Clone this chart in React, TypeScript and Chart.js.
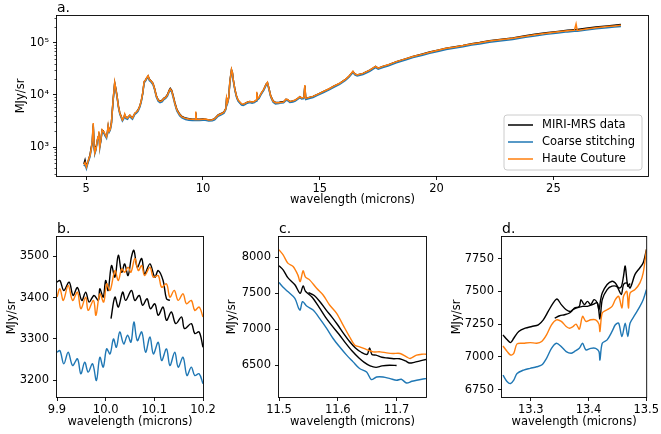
import React, { useEffect, useRef } from "react";
import { Chart, registerables } from "chart.js";

Chart.register(...registerables);

const W = 661;
const H = 434;
const FONT_FAMILY = '"DejaVu Sans", Verdana, sans-serif';
const LABEL_SIZE = 11.5;
const TITLE_SIZE = 14;
const BLACK = "#000000";
const BLUE = "#1f77b4";
const ORANGE = "#ff7f0e";

const LEGEND_LABELS = ["MIRI-MRS data", "Coarse stitching", "Haute Couture"];
const X_LABEL = "wavelength (microns)";
const Y_LABEL = "MJy/sr";

// ---------------- panel a: full spectrum ----------------
const fullWavelength = [
  4.90, 4.95, 5.01, 5.08, 5.16, 5.22, 5.26, 5.30, 5.34, 5.37,
  5.42, 5.47, 5.51, 5.54, 5.58, 5.63, 5.68, 5.73, 5.77, 5.82,
  5.87, 5.91, 5.94, 5.98, 6.03, 6.08, 6.15, 6.22, 6.27, 6.32,
  6.38, 6.44, 6.50, 6.55, 6.60, 6.65, 6.70, 6.77, 6.82, 6.87,
  6.92, 6.98, 7.03, 7.08, 7.15, 7.22, 7.30, 7.36, 7.42, 7.48,
  7.53, 7.58, 7.65, 7.70, 7.78, 7.86, 7.93, 8.00, 8.08, 8.16,
  8.25, 8.32, 8.40, 8.48, 8.55, 8.60, 8.66, 8.72, 8.80, 8.88,
  9.00, 9.10, 9.25, 9.40, 9.55, 9.66, 9.69, 9.72, 9.85, 10.00,
  10.10, 10.25, 10.40, 10.50, 10.65, 10.80, 10.90, 10.98, 11.01, 11.05,
  11.10, 11.15, 11.22, 11.26, 11.30, 11.37, 11.44, 11.50, 11.58, 11.65,
  11.72, 11.80, 11.90, 12.00, 12.10, 12.20, 12.28, 12.30, 12.33, 12.40,
  12.50, 12.60, 12.70, 12.76, 12.82, 12.90, 13.00, 13.10, 13.25, 13.35,
  13.45, 13.50, 13.55, 13.62, 13.72, 13.85, 13.95, 14.05, 14.15, 14.22,
  14.32, 14.36, 14.40, 14.55, 14.71, 14.90, 15.14, 15.40, 15.60, 15.85,
  16.10, 16.25, 16.42, 16.50, 16.60, 16.85, 17.03, 17.14, 17.30, 17.39,
  17.50, 17.70, 17.92, 18.28, 18.70, 18.99, 19.40, 19.70, 20.10, 20.41,
  20.80, 21.13, 21.50, 21.84, 22.26, 22.80, 23.26, 23.80, 24.20, 24.69,
  25.20, 25.60, 25.90, 25.97, 26.02, 26.40, 26.82, 27.30, 27.60, 27.89,
];

const fullMiri = [
  470, 560, 420, 520, 700, 1000, 1200, 2600, 1050, 800,
  950, 1300, 1550, 1900, 1050, 1350, 2100, 2050, 1850, 1650,
  1600, 1950, 2500, 2050, 2250, 2950, 7800, 17000, 13200, 9600,
  6100, 4500, 3850, 3350, 3550, 4100, 3750, 3650, 3850, 4050,
  3850, 3650, 3950, 4400, 4700, 5150, 6200, 7800, 10800, 17800,
  19000, 20800, 23000, 20200, 18600, 16700, 13200, 9800, 8100, 7600,
  7900, 8600, 9100, 10200, 12300, 13400, 12300, 9800, 7000, 5300,
  4300, 3850, 3600, 3480, 3420, 3400, 4600, 3400, 3400, 3440,
  3420, 3320, 3360, 3520, 4150, 4450, 4750, 5550, 8400, 7300,
  9100, 18200, 30500, 27000, 19200, 12600, 9300, 7880, 7150, 6650,
  6550, 6850, 7250, 7450, 7300, 7450, 7950, 11000, 8450, 8950,
  10900, 12700, 16100, 17200, 13600, 9600, 7700, 7200, 7170, 7400,
  7450, 7750, 8250, 8150, 7450, 7650, 7950, 8550, 9250, 8750,
  8950, 15000, 8550, 8950, 9350, 10250, 11550, 13100, 14700, 16700,
  19900, 22900, 28000, 25300, 24200, 25900, 28300, 29900, 33300, 35300,
  32600, 35400, 37900, 43700, 50000, 55100, 61200, 66800, 73500, 79500,
  84600, 89800, 97000, 102000, 110500, 117500, 125000, 137000, 146500, 157000,
  167000, 176000, 180000, 181000, 181500, 191000, 202000, 212000, 219000, 226000,
];

const fullCoarse = [
  430, 460, 380, 500, 640, 900, 1280, 2750, 940, 740,
  870, 1280, 1520, 1900, 950, 1330, 2050, 1900, 1800, 1600,
  1470, 1900, 2450, 1900, 2100, 2750, 7500, 16400, 12400, 9000,
  5700, 4250, 3600, 3150, 3420, 4100, 3520, 3420, 3700, 3900,
  3600, 3420, 3800, 4250, 4450, 4850, 5900, 7500, 10500, 17300,
  18100, 20000, 22400, 19000, 17600, 15700, 12400, 9100, 7600, 7100,
  7400, 8100, 8550, 9500, 11400, 12400, 11400, 9000, 6450, 4950,
  4000, 3620, 3380, 3280, 3240, 3220, 4550, 3220, 3220, 3260,
  3280, 3150, 3190, 3330, 3900, 4180, 4470, 5230, 8300, 6850,
  8550, 17100, 29500, 25700, 18000, 11900, 8850, 7650, 6950, 6400,
  6300, 6550, 6950, 7130, 6950, 7130, 7600, 10900, 8080, 8550,
  10450, 12200, 15200, 16200, 12800, 9000, 7220, 6750, 6850, 7050,
  7100, 7450, 7900, 7800, 7150, 7320, 7600, 8200, 8850, 8400,
  8550, 14700, 8200, 8550, 8950, 9800, 11050, 12550, 14100, 16000,
  19000, 21900, 27100, 24300, 23100, 24700, 27100, 28500, 31800, 33700,
  31200, 33700, 36100, 41600, 47500, 52300, 58000, 63200, 69400, 75000,
  79800, 84600, 91200, 96000, 103600, 110200, 117000, 128300, 136800, 146300,
  155800, 163400, 167200, 168000, 168500, 176700, 187200, 196700, 202400, 208000,
];

const fullHaute = [
  460, 500, 410, 540, 680, 950, 1350, 2900, 1000, 780,
  920, 1350, 1600, 2000, 1000, 1400, 2150, 2000, 1900, 1700,
  1550, 2000, 2600, 2000, 2200, 2900, 7900, 17600, 13000, 9500,
  6000, 4450, 3800, 3300, 3600, 4300, 3700, 3600, 3900, 4100,
  3800, 3600, 4000, 4450, 4700, 5100, 6200, 7900, 11000, 18200,
  19000, 21000, 23500, 20000, 18500, 16500, 13000, 9600, 8000, 7500,
  7800, 8500, 9000, 10000, 12000, 13000, 12000, 9500, 6800, 5200,
  4200, 3800, 3550, 3450, 3400, 3380, 4800, 3380, 3380, 3420,
  3440, 3300, 3350, 3500, 4100, 4400, 4700, 5500, 8700, 7200,
  9000, 18000, 31000, 27000, 19000, 12500, 9300, 8100, 7300, 6750,
  6650, 6900, 7300, 7500, 7300, 7500, 8000, 11500, 8500, 9000,
  11000, 12800, 16000, 17500, 13500, 9500, 7600, 7100, 7080, 7280,
  7350, 7800, 8300, 8200, 7500, 7700, 8000, 8600, 9300, 8800,
  9000, 15500, 8600, 9000, 9400, 10300, 11600, 13200, 14800, 16800,
  20000, 23000, 28500, 25500, 24300, 26000, 28500, 30000, 33500, 35500,
  32800, 35500, 38000, 43800, 50000, 55000, 61000, 66500, 73000, 79000,
  84000, 89000, 96000, 101000, 109000, 116000, 123000, 135000, 144000, 154000,
  164000, 172000, 176000, 232000, 174000, 186000, 197000, 207000, 213000, 219000,
];

const aXTicks = [5, 10, 15, 20, 25];
const aXTickLabels = ["5", "10", "15", "20", "25"];
const aYTicks = [1000, 10000, 100000];
const aYTickLabels = ["10\u00B3", "10\u2074", "10\u2075"];

// ---------------- panel b: 9.9 - 10.2 ----------------
const bMiriAWl = [
  9.900, 9.906, 9.914, 9.925, 9.933, 9.942, 9.951, 9.959, 9.966, 9.976,
  9.985, 9.988, 9.995, 10.000, 10.005, 10.012, 10.019, 10.026, 10.033, 10.039,
  10.046, 10.053, 10.058, 10.065, 10.074, 10.080, 10.091, 10.101, 10.108, 10.118,
  10.125, 10.132,
];
const bMiriA = [
  3437, 3441, 3417, 3437, 3405, 3424, 3393, 3413, 3389, 3405,
  3393, 3421, 3401, 3441, 3417, 3477, 3449, 3502, 3461, 3481,
  3453, 3498, 3514, 3473, 3494, 3457, 3481, 3449, 3465, 3441,
  3397, 3393,
];
const bMiriBWl = [
  10.011, 10.019, 10.026, 10.035, 10.041, 10.053, 10.060, 10.069, 10.076, 10.085,
  10.092, 10.101, 10.108, 10.118, 10.125, 10.135, 10.144, 10.156, 10.162, 10.176,
  10.183, 10.192, 10.200,
];
const bMiriB = [
  3349, 3401, 3377, 3413, 3393, 3417, 3393, 3405, 3381, 3397,
  3373, 3385, 3357, 3377, 3345, 3365, 3337, 3353, 3325, 3337,
  3313, 3317, 3280,
];
const bHauteWl = [
  9.900, 9.906, 9.913, 9.923, 9.932, 9.942, 9.949, 9.959, 9.964, 9.975,
  9.980, 9.988, 9.996, 10.002, 10.009, 10.019, 10.026, 10.033, 10.039, 10.046,
  10.052, 10.060, 10.067, 10.074, 10.080, 10.091, 10.098, 10.108, 10.115, 10.125,
  10.132, 10.141, 10.149, 10.159, 10.166, 10.176, 10.183, 10.192, 10.200,
];
const bHaute = [
  3401, 3421, 3393, 3429, 3393, 3413, 3373, 3401, 3369, 3393,
  3357, 3409, 3389, 3433, 3417, 3465, 3441, 3469, 3461, 3473,
  3461, 3494, 3465, 3477, 3453, 3473, 3449, 3453, 3425, 3433,
  3401, 3417, 3393, 3409, 3385, 3393, 3369, 3377, 3353,
];
const bCoarseWl = [
  9.900, 9.906, 9.914, 9.923, 9.932, 9.942, 9.949, 9.957, 9.964, 9.973,
  9.981, 9.988, 9.995, 10.002, 10.009, 10.016, 10.022, 10.029, 10.037, 10.045,
  10.052, 10.058, 10.065, 10.074, 10.082, 10.091, 10.098, 10.108, 10.115, 10.125,
  10.132, 10.142, 10.149, 10.159, 10.167, 10.176, 10.183, 10.192, 10.200,
];
const bCoarse = [
  3268, 3272, 3240, 3268, 3236, 3252, 3216, 3244, 3220, 3240,
  3200, 3256, 3232, 3276, 3264, 3300, 3280, 3317, 3288, 3309,
  3292, 3341, 3296, 3317, 3268, 3305, 3264, 3292, 3248, 3276,
  3236, 3268, 3232, 3256, 3212, 3232, 3212, 3216, 3192,
];
const bXTicks = [9.9, 10.0, 10.1, 10.2];
const bXTickLabels = ["9.9", "10.0", "10.1", "10.2"];
const bYTicks = [3200, 3300, 3400, 3500];
const bYTickLabels = ["3200", "3300", "3400", "3500"];

// ---------------- panel c: 11.5 - 11.75 ----------------
const cMiriAWl = [
  11.500, 11.507, 11.515, 11.527, 11.536, 11.541, 11.545, 11.556, 11.568, 11.579,
  11.590, 11.602, 11.613, 11.624, 11.636, 11.645, 11.655, 11.665, 11.675, 11.688,
  11.700,
];
const cMiriA = [
  7883, 7828, 7720, 7620, 7500, 7604, 7530, 7450, 7310, 7170,
  7050, 6930, 6810, 6700, 6600, 6540, 6490, 6470, 6490, 6500,
  6495,
];
const cMiriBWl = [
  11.550, 11.560, 11.570, 11.580, 11.590, 11.600, 11.610, 11.620, 11.630, 11.640,
  11.650, 11.654, 11.658, 11.665, 11.675, 11.685, 11.695, 11.705, 11.715, 11.722,
  11.730, 11.740, 11.750,
];
const cMiriB = [
  7510, 7470, 7380, 7270, 7170, 7060, 6940, 6830, 6740, 6680,
  6650, 6740, 6650, 6640, 6610, 6600, 6590, 6590, 6560, 6530,
  6540, 6560, 6580,
];
const cHauteWl = [
  11.500, 11.507, 11.515, 11.524, 11.532, 11.536, 11.541, 11.545, 11.552, 11.564,
  11.575, 11.586, 11.598, 11.609, 11.620, 11.629, 11.637, 11.649, 11.660, 11.672,
  11.683, 11.694, 11.706, 11.717, 11.723, 11.734, 11.743, 11.750,
];
const cHaute = [
  8107, 8037, 7921, 7874, 7758, 7664, 7814, 7725, 7688, 7571,
  7478, 7338, 7222, 7059, 6896, 6779, 6756, 6718, 6686, 6686,
  6672, 6663, 6663, 6616, 6593, 6640, 6653, 6653,
];
const cCoarseWl = [
  11.500, 11.507, 11.515, 11.527, 11.533, 11.536, 11.540, 11.547, 11.558, 11.569,
  11.581, 11.592, 11.603, 11.615, 11.626, 11.637, 11.649, 11.657, 11.666, 11.677,
  11.689, 11.700, 11.708, 11.717, 11.726, 11.734, 11.743, 11.750,
];
const cCoarse = [
  7651, 7585, 7525, 7431, 7300, 7268, 7385, 7324, 7268, 7152,
  7012, 6872, 6756, 6640, 6546, 6453, 6406, 6299, 6336, 6336,
  6313, 6290, 6304, 6252, 6276, 6290, 6304, 6313,
];
const cXTicks = [11.5, 11.6, 11.7];
const cXTickLabels = ["11.5", "11.6", "11.7"];
const cYTicks = [6500, 7000, 7500, 8000];
const cYTickLabels = ["6500", "7000", "7500", "8000"];

// ---------------- panel d: 13.25 - 13.5 ----------------
const dMiriAWl = [
  13.2517, 13.2591, 13.2648, 13.2704, 13.2790, 13.2903, 13.3017, 13.3130, 13.3216, 13.3301,
  13.3386, 13.3454, 13.3528, 13.3613, 13.3698, 13.3755, 13.3840, 13.3869, 13.3926, 13.3982,
  13.4039, 13.4096, 13.4153, 13.4181, 13.4210, 13.4238, 13.4323, 13.4408, 13.4465, 13.4522,
  13.4568, 13.4607, 13.4636, 13.4681, 13.4721,
];
const dMiriA = [
  7168, 7130, 7109, 7142, 7194, 7219, 7232, 7245, 7283, 7347,
  7411, 7442, 7399, 7360, 7347, 7373, 7386, 7437, 7399, 7424,
  7399, 7437, 7412, 7360, 7437, 7488, 7553, 7578, 7565, 7527,
  7535, 7617, 7694, 7540, 7560,
];
const dMiriBWl = [
  13.3414, 13.3500, 13.3585, 13.3670, 13.3727, 13.3784, 13.3897, 13.3982, 13.4068, 13.4153,
  13.4198, 13.4238, 13.4323, 13.4408, 13.4494, 13.4568, 13.4607, 13.4664, 13.4721, 13.4806,
  13.4891, 13.4948, 13.5005,
];
const dMiriB = [
  7296, 7314, 7322, 7335, 7360, 7373, 7386, 7386, 7399, 7412,
  7290, 7437, 7514, 7540, 7535, 7476, 7553, 7565, 7527, 7630,
  7681, 7719, 7822,
];
const dHauteWl = [
  13.2517, 13.2591, 13.2648, 13.2704, 13.2761, 13.2875, 13.2988, 13.3102, 13.3187, 13.3272,
  13.3358, 13.3443, 13.3528, 13.3613, 13.3670, 13.3727, 13.3784, 13.3840, 13.3897, 13.3954,
  13.4039, 13.4124, 13.4181, 13.4198, 13.4238, 13.4323, 13.4408, 13.4465, 13.4522, 13.4579,
  13.4607, 13.4664, 13.4692, 13.4721, 13.4806, 13.4891, 13.4948, 13.5005,
];
const dHaute = [
  7083, 7040, 7014, 7027, 7099, 7104, 7109, 7104, 7117, 7168,
  7245, 7283, 7271, 7232, 7219, 7230, 7250, 7212, 7309, 7271,
  7283, 7283, 7250, 7194, 7335, 7360, 7386, 7437, 7463, 7373,
  7463, 7501, 7373, 7488, 7514, 7565, 7642, 7822,
];
const dCoarseWl = [
  13.2517, 13.2591, 13.2648, 13.2704, 13.2761, 13.2875, 13.2988, 13.3102, 13.3187, 13.3272,
  13.3358, 13.3443, 13.3528, 13.3613, 13.3698, 13.3755, 13.3840, 13.3897, 13.3954, 13.4039,
  13.4124, 13.4181, 13.4198, 13.4238, 13.4323, 13.4408, 13.4465, 13.4522, 13.4579, 13.4636,
  13.4681, 13.4721, 13.4806, 13.4891, 13.4948, 13.5005,
];
const dCoarse = [
  6860, 6809, 6796, 6822, 6873, 6899, 6912, 6924, 6937, 6989,
  7065, 7104, 7078, 7040, 7027, 7040, 7065, 7104, 7053, 7065,
  7065, 7040, 6976, 7104, 7130, 7194, 7245, 7258, 7155, 7258,
  7155, 7258, 7322, 7386, 7437, 7514,
];
const dXTicks = [13.3, 13.4, 13.5];
const dXTickLabels = ["13.3", "13.4", "13.5"];
const dYTicks = [6750, 7000, 7250, 7500, 7750];
const dYTickLabels = ["6750", "7000", "7250", "7500", "7750"];

// ---------------- chart building ----------------
type Series = { label: string; xs: number[]; ys: number[]; color: string; order: number };
type Box = { l: number; t: number; r: number; b: number };
type Spec = {
  title: string;
  box: Box;
  yAxisWidth: number;
  xAxisHeight: number;
  xMin: number;
  xMax: number;
  yMin: number;
  yMax: number;
  yLog?: boolean;
  xTicks: number[];
  xTickLabels: string[];
  yTicks: number[];
  yTickLabels: string[];
  series: Series[];
  legend?: { box: Box; handleX1: number; handleX2: number; textX: number; rowY: number[] };
  lineWidth: number;
  tension: number;
};

function font(size: number) {
  return `${size}px ${FONT_FAMILY}`;
}

function makePlugin(spec: Spec) {
  return {
    id: "frameAndDecor",
    afterDraw(chart: any) {
      const ctx: CanvasRenderingContext2D = chart.ctx;
      const a = chart.chartArea;
      ctx.save();
      ctx.strokeStyle = "#000";
      ctx.lineWidth = 0.9;
      ctx.strokeRect(a.left - 0.5, a.top - 0.5, a.right - a.left + 1, a.bottom - a.top + 1);
      if (spec.yLog) {
        const ys = chart.scales.y;
        ctx.lineWidth = 0.7;
        ctx.beginPath();
        for (let e = 1; e <= 6; e++) {
          for (let k = 2; k <= 9; k++) {
            const v = k * Math.pow(10, e);
            if (v < spec.yMin || v > spec.yMax) continue;
            const py = Math.round(ys.getPixelForValue(v)) + 0.5;
            ctx.moveTo(a.left - 0.5, py);
            ctx.lineTo(a.left - 2.5, py);
          }
        }
        ctx.stroke();
      }
      ctx.fillStyle = "#000";
      ctx.font = font(TITLE_SIZE);
      ctx.textAlign = "left";
      ctx.textBaseline = "alphabetic";
      ctx.fillText(spec.title, a.left, a.top - 4);
      if (spec.legend) {
        const lg = spec.legend;
        const r = 3;
        const { l, t } = lg.box;
        const w = lg.box.r - lg.box.l;
        const h = lg.box.b - lg.box.t;
        ctx.beginPath();
        ctx.moveTo(l + r, t);
        ctx.lineTo(l + w - r, t);
        ctx.arcTo(l + w, t, l + w, t + r, r);
        ctx.lineTo(l + w, t + h - r);
        ctx.arcTo(l + w, t + h, l + w - r, t + h, r);
        ctx.lineTo(l + r, t + h);
        ctx.arcTo(l, t + h, l, t + h - r, r);
        ctx.lineTo(l, t + r);
        ctx.arcTo(l, t, l + r, t, r);
        ctx.closePath();
        ctx.fillStyle = "rgba(255,255,255,0.8)";
        ctx.fill();
        ctx.strokeStyle = "#cccccc";
        ctx.lineWidth = 1;
        ctx.stroke();
        const items = chart.data.datasets.filter((d: any) => d.label);
        ctx.font = font(LABEL_SIZE);
        ctx.textBaseline = "middle";
        items.forEach((d: any, i: number) => {
          const y = lg.rowY[i];
          ctx.strokeStyle = d.borderColor;
          ctx.lineWidth = spec.lineWidth;
          ctx.beginPath();
          ctx.moveTo(lg.handleX1, y);
          ctx.lineTo(lg.handleX2, y);
          ctx.stroke();
          ctx.fillStyle = "#000";
          ctx.fillText(d.label, lg.textX, y);
        });
      }
      ctx.restore();
    },
  };
}

function buildConfig(spec: Spec): any {
  const tickFont = { family: FONT_FAMILY, size: LABEL_SIZE };
  const grid = {
    display: true,
    drawOnChartArea: false,
    drawTicks: true,
    tickLength: 4,
    color: "#000",
    lineWidth: 0.9,
  };
  return {
    type: "line",
    data: {
      datasets: spec.series.map((s) => ({
        label: s.label,
        data: s.xs.map((x, i) => ({ x, y: s.ys[i] })),
        borderColor: s.color,
        backgroundColor: s.color,
        borderWidth: spec.lineWidth,
        pointRadius: 0,
        pointHoverRadius: 0,
        tension: spec.tension,
        fill: false,
        order: s.order,
      })),
    },
    options: {
      responsive: false,
      animation: false,
      devicePixelRatio: 1,
      events: [],
      layout: {
        padding: {
          left: spec.box.l - spec.yAxisWidth,
          top: spec.box.t,
          right: W - spec.box.r,
          bottom: H - spec.box.b - spec.xAxisHeight,
        },
      },
      plugins: {
        legend: { display: false },
        tooltip: { enabled: false },
        title: { display: false },
      },
      scales: {
        x: {
          type: "linear",
          min: spec.xMin,
          max: spec.xMax,
          afterBuildTicks: (sc: any) => {
            sc.ticks = spec.xTicks.map((v) => ({ value: v }));
          },
          afterFit: (sc: any) => {
            sc.height = spec.xAxisHeight;
          },
          grid,
          border: { display: false },
          ticks: {
            autoSkip: false,
            maxRotation: 0,
            minRotation: 0,
            padding: 2,
            color: "#000",
            font: tickFont,
            callback: (_v: any, i: number) => spec.xTickLabels[i],
          },
          title: {
            display: true,
            text: X_LABEL,
            color: "#000",
            font: tickFont,
            padding: 0,
          },
        },
        y: {
          type: spec.yLog ? "logarithmic" : "linear",
          min: spec.yMin,
          max: spec.yMax,
          afterBuildTicks: (sc: any) => {
            sc.ticks = spec.yTicks.map((v) => ({ value: v }));
          },
          afterFit: (sc: any) => {
            sc.width = spec.yAxisWidth;
          },
          grid,
          border: { display: false },
          ticks: {
            autoSkip: false,
            padding: 4,
            color: "#000",
            font: tickFont,
            callback: (_v: any, i: number) => spec.yTickLabels[i],
          },
          title: {
            display: true,
            text: Y_LABEL,
            color: "#000",
            font: tickFont,
            padding: 0,
          },
        },
      },
    },
    plugins: [makePlugin(spec)],
  };
}

const specA: Spec = {
  title: "a.",
  box: { l: 57, t: 16, r: 648, b: 176 },
  yAxisWidth: 43,
  xAxisHeight: 31,
  xMin: 3.75,
  xMax: 29.05,
  yMin: 277,
  yMax: 330000,
  yLog: true,
  xTicks: aXTicks,
  xTickLabels: aXTickLabels,
  yTicks: aYTicks,
  yTickLabels: aYTickLabels,
  lineWidth: 1.5,
  tension: 0,
  series: [
    { label: LEGEND_LABELS[0], xs: fullWavelength, ys: fullMiri, color: BLACK, order: 3 },
    { label: LEGEND_LABELS[1], xs: fullWavelength, ys: fullCoarse, color: BLUE, order: 2 },
    { label: LEGEND_LABELS[2], xs: fullWavelength, ys: fullHaute, color: ORANGE, order: 1 },
  ],
  legend: {
    box: { l: 504, t: 115, r: 642, b: 170 },
    handleX1: 508,
    handleX2: 533,
    textX: 542,
    rowY: [125, 142, 159],
  },
};

const specB: Spec = {
  title: "b.",
  box: { l: 57, t: 237, r: 203, b: 397 },
  yAxisWidth: 52,
  xAxisHeight: 32,
  xMin: 9.9,
  xMax: 10.2,
  yMin: 3160,
  yMax: 3546,
  xTicks: bXTicks,
  xTickLabels: bXTickLabels,
  yTicks: bYTicks,
  yTickLabels: bYTickLabels,
  lineWidth: 1.4,
  tension: 0.35,
  series: [
    { label: "", xs: bMiriAWl, ys: bMiriA, color: BLACK, order: 4 },
    { label: "", xs: bMiriBWl, ys: bMiriB, color: BLACK, order: 3 },
    { label: "", xs: bCoarseWl, ys: bCoarse, color: BLUE, order: 2 },
    { label: "", xs: bHauteWl, ys: bHaute, color: ORANGE, order: 1 },
  ],
};

const specC: Spec = {
  title: "c.",
  box: { l: 279, t: 237, r: 426, b: 397 },
  yAxisWidth: 54,
  xAxisHeight: 32,
  xMin: 11.5,
  xMax: 11.75,
  yMin: 6057,
  yMax: 8285,
  xTicks: cXTicks,
  xTickLabels: cXTickLabels,
  yTicks: cYTicks,
  yTickLabels: cYTickLabels,
  lineWidth: 1.4,
  tension: 0.3,
  series: [
    { label: "", xs: cMiriAWl, ys: cMiriA, color: BLACK, order: 4 },
    { label: "", xs: cMiriBWl, ys: cMiriB, color: BLACK, order: 3 },
    { label: "", xs: cCoarseWl, ys: cCoarse, color: BLUE, order: 2 },
    { label: "", xs: cHauteWl, ys: cHaute, color: ORANGE, order: 1 },
  ],
};

const specD: Spec = {
  title: "d.",
  box: { l: 502, t: 237, r: 648, b: 397 },
  yAxisWidth: 52,
  xAxisHeight: 32,
  xMin: 13.25,
  xMax: 13.5,
  yMin: 6693,
  yMax: 7916,
  xTicks: dXTicks,
  xTickLabels: dXTickLabels,
  yTicks: dYTicks,
  yTickLabels: dYTickLabels,
  lineWidth: 1.4,
  tension: 0.3,
  series: [
    { label: "", xs: dMiriAWl, ys: dMiriA, color: BLACK, order: 4 },
    { label: "", xs: dMiriBWl, ys: dMiriB, color: BLACK, order: 3 },
    { label: "", xs: dCoarseWl, ys: dCoarse, color: BLUE, order: 2 },
    { label: "", xs: dHauteWl, ys: dHaute, color: ORANGE, order: 1 },
  ],
};

function PanelCanvas({ spec }: { spec: Spec }) {
  const ref = useRef<HTMLCanvasElement | null>(null);
  useEffect(() => {
    if (!ref.current) return;
    const chart = new Chart(ref.current, buildConfig(spec));
    return () => chart.destroy();
  }, [spec]);
  return (
    <canvas
      ref={ref}
      width={W}
      height={H}
      style={{ position: "absolute", left: 0, top: 0, width: W, height: H }}
    />
  );
}

export default function App() {
  return (
    <div
      style={{
        position: "absolute",
        left: 0,
        top: 0,
        width: W,
        height: H,
        background: "#ffffff",
        overflow: "hidden",
      }}
    >
      <PanelCanvas spec={specA} />
      <PanelCanvas spec={specB} />
      <PanelCanvas spec={specC} />
      <PanelCanvas spec={specD} />
    </div>
  );
}
